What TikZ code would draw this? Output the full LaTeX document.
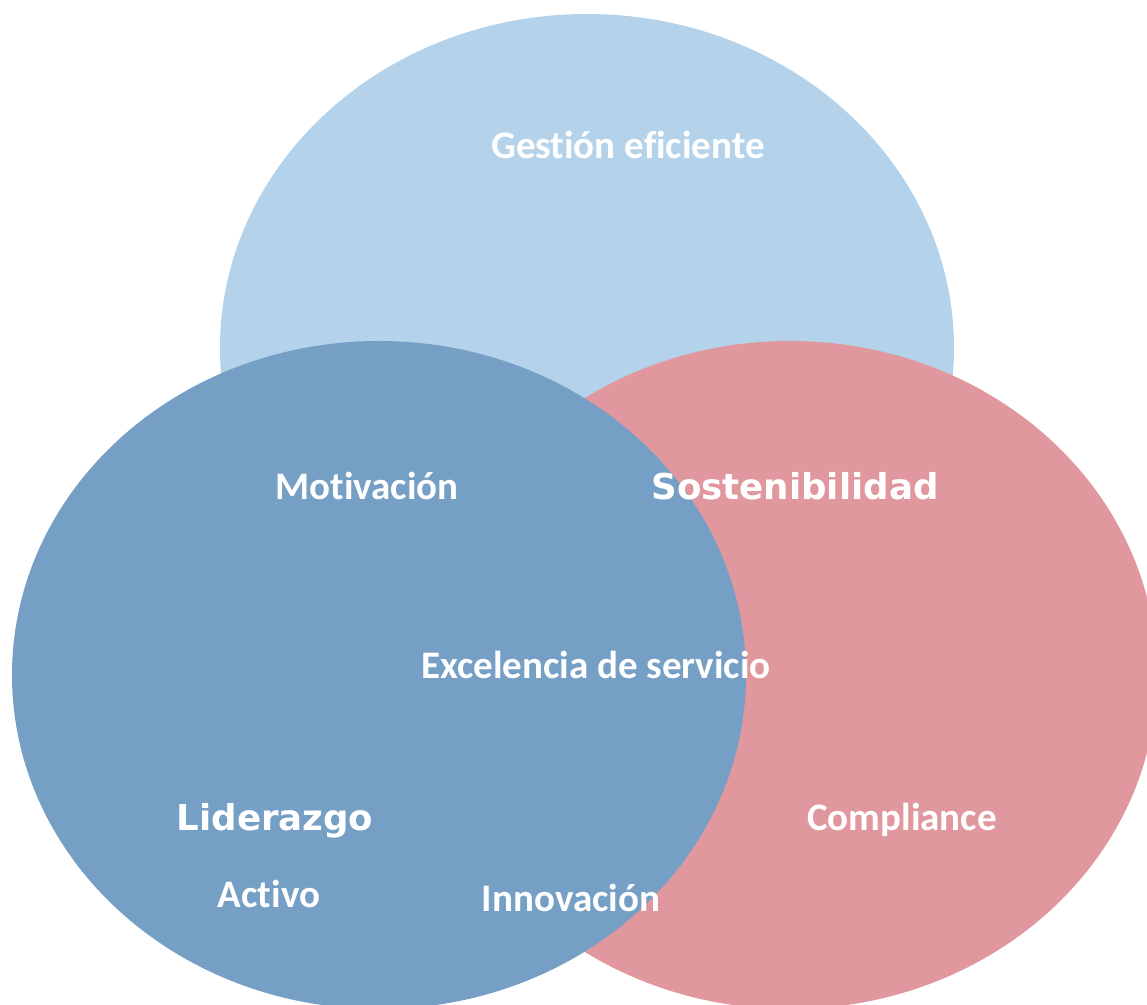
\documentclass[tikz,border=0pt]{standalone}
\usepackage{fontspec}
\usepackage{xcolor}
\setmainfont{Carlito}[Ligatures={NoCommon}]
\newfontfamily\verafont{DejaVu Sans}

\begin{document}
\begin{tikzpicture}[x=0.5pt,y=-0.5pt]
\definecolor{cielo}{HTML}{B4D3EB}
\definecolor{acero}{HTML}{759FC5}
\definecolor{rosa}{HTML}{E0989E}
\tikzset{petal/.style={x radius=183.5pt,y radius=167pt}}
\tikzset{word/.style={text=white,inner sep=0pt,anchor=base,font=\bfseries\fontsize{19.5}{23}\selectfont}}
\tikzset{bigword/.style={word,font=\verafont\bfseries\fontsize{17.8}{21}\selectfont}}

\useasboundingbox (0,0) rectangle (1147,1005);
\clip (0,0) rectangle (1147,1005);

\fill[cielo] (587,348) ellipse [petal];
\fill[rosa] (790,675) ellipse [petal];
\fill[acero] (379,675) ellipse [petal];

\node[word] (gestion) at (628,159) {Gestión eficiente};
\node[word] (motivacion) at (367,500) {Motivación};
\node[bigword] (sostenibilidad) at (795,500) {Sostenibilidad};
\node[word] (excelencia) at (596,679) {Excelencia de servicio};
\node[bigword] (liderazgo) at (275,830) {Liderazgo};
\node[word] (compliance) at (902,830) {Compliance};
\node[word] (activo) at (269,907) {Activo};
\node[word] (innovacion) at (571,911) {Innovación};

\end{tikzpicture}
\end{document}
